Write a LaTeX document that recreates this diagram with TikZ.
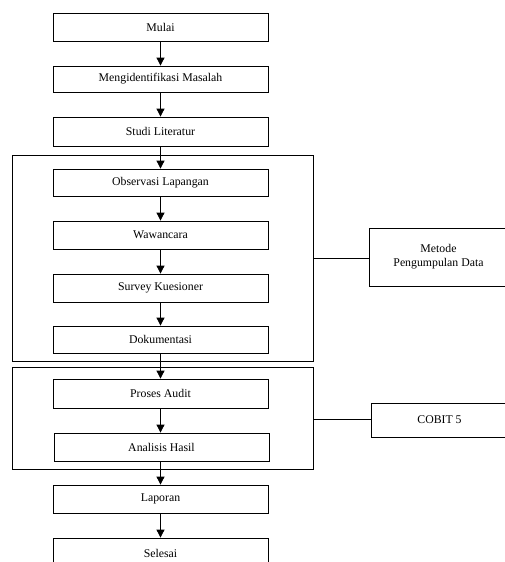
\documentclass[tikz,border=0pt]{standalone}
\usepackage{fontspec}
\setmainfont{Liberation Serif}
\usetikzlibrary{arrows.meta}
\begin{document}
\begin{tikzpicture}[x=1pt,y=-1pt,
  stepbox/.style={draw,line width=0.8pt,minimum width=215pt,inner sep=0pt,font=\fontsize{11.8}{13}\selectfont},
  group/.style={draw,line width=0.8pt},
  side/.style={draw,line width=0.8pt,inner sep=0pt,align=center,font=\fontsize{11.8}{14}\selectfont},
  arr/.style={line width=0.8pt,-{Triangle[width=8pt,length=8pt]}},
  conn/.style={line width=0.8pt}]
\clip (0,0) rectangle (505,562);
\fill[white] (0,0) rectangle (505,562);
% group boxes
\draw[group] (12,155) rectangle (313,361);
\draw[group] (12,367) rectangle (313,469);
\coordinate (g1) at (313,258);
\coordinate (g2) at (313,419);
% main steps
\node[stepbox,minimum height=28pt] (mulai) at (160.5,27) {Mulai};
\node[stepbox,minimum height=26pt] (ident) at (160.5,79) {Mengidentifikasi Masalah};
\node[stepbox,minimum height=29pt] (studi) at (160.5,131.5) {Studi Literatur};
\node[stepbox,minimum height=27pt] (obs) at (160.5,182.5) {Observasi Lapangan};
\node[stepbox,minimum height=28pt] (waw) at (160.5,235) {Wawancara};
\node[stepbox,minimum height=28pt] (surv) at (160.5,288) {Survey Kuesioner};
\node[stepbox,minimum height=27pt] (dok) at (160.5,339.5) {Dokumentasi};
\node[stepbox,minimum height=29pt] (pros) at (160.5,393.5) {Proses Audit};
\node[stepbox,minimum height=28pt] (anal) at (161.5,447) {Analisis Hasil};
\node[stepbox,minimum height=28pt] (lap) at (160.5,499) {Laporan};
\node[stepbox,minimum height=30pt] (sel) at (160.5,553) {Selesai};
% side boxes
\node[side,minimum width=139pt,minimum height=58pt] (metode) at (438.5,257) {Metode\\Pengumpulan Data};
\node[side,minimum width=137pt,minimum height=34pt] (cobit) at (439.5,420) {COBIT 5};
% arrows
\draw[arr] (mulai) -- (ident);
\draw[arr] (ident) -- (studi);
\draw[arr] (studi) -- (obs);
\draw[arr] (obs) -- (waw);
\draw[arr] (waw) -- (surv);
\draw[arr] (surv) -- (dok);
\draw[arr] (dok) -- (pros);
\draw[arr] (pros.south) -- (pros.south |- anal.north);
\draw[arr] (anal.south -| lap.north) -- (lap);
\draw[arr] (lap) -- (sel);
% side connectors
\draw[conn] (g1) -- (g1 -| metode.west);
\draw[conn] (g2) -- (g2 -| cobit.west);
\end{tikzpicture}
\end{document}
